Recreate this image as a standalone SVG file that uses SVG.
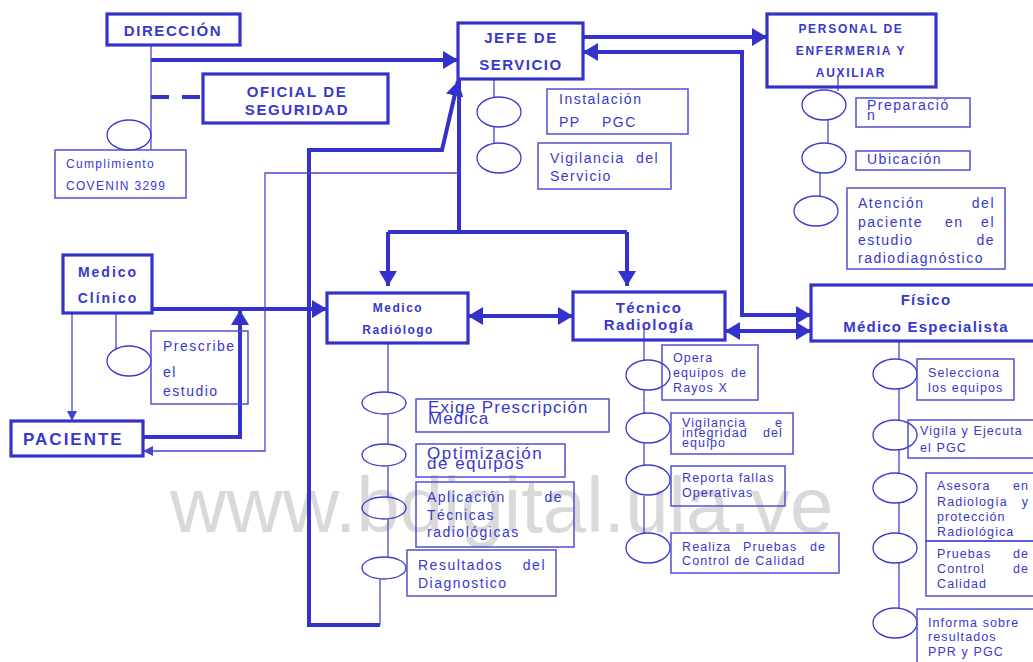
<svg xmlns="http://www.w3.org/2000/svg" width="1033" height="662" viewBox="0 0 1033 662">
<defs>
<marker id="ah" markerUnits="userSpaceOnUse" markerWidth="16" markerHeight="18" refX="15" refY="9" orient="auto-start-reverse"><path d="M0,0 L15,9 L0,18 z" fill="#3333CC"/></marker>
<marker id="as" markerUnits="userSpaceOnUse" markerWidth="11" markerHeight="10" refX="10" refY="5" orient="auto"><path d="M0,0 L10,5 L0,10 z" fill="#4444CF"/></marker>
<style>
.thick{stroke:#3333CC;stroke-width:4;fill:none}
.thin{stroke:#4848D0;stroke-width:1.3;fill:none}
.node{stroke:#3333CC;stroke-width:3.2;fill:none}
.box{stroke:#5050D4;stroke-width:1.5;fill:none}
.ell{stroke:#3C3CCC;stroke-width:1.3;fill:none}
text{font-family:"Liberation Sans",Arial,sans-serif;fill:#3838CC}
.b{font-weight:bold}
.n{font-size:14px;letter-spacing:1.5px}
.s{font-size:12.5px;letter-spacing:1.1px}
.wm{font-size:78px;fill:#D9D9D9;letter-spacing:0}
</style>
</defs>
<rect width="1033" height="662" fill="#fff"/>
<text class="wm" x="170" y="532">www.bdigital.ula.ve</text>

<g id="connectors">
<path class="thick" d="M151,60 H458" marker-end="url(#ah)"/>
<path class="thick" d="M583,37 H767" marker-end="url(#ah)"/>
<path class="thick" d="M583,52 H742 V315 H811" marker-start="url(#ah)" marker-end="url(#ah)"/>
<path class="thick" d="M725,331 H811" marker-start="url(#ah)" marker-end="url(#ah)"/>
<path class="thick" d="M468,316 H573" marker-start="url(#ah)" marker-end="url(#ah)"/>
<path class="thick" d="M459,79 V232"/>
<path class="thick" d="M388,232 H627"/>
<path class="thick" d="M388,232 V286" marker-end="url(#ah)"/>
<path class="thick" d="M627,232 V286" marker-end="url(#ah)"/>
<path class="thick" d="M380,625 H309 V150 H442 L458,81" marker-end="url(#ah)"/>
<path class="thick" d="M152,309 H327" marker-end="url(#ah)"/>
<path class="thick" d="M143,437 H240 V310" marker-end="url(#ah)"/>
<path class="thin" d="M72,313 V421" marker-end="url(#as)"/>
<path class="thin" d="M459,173 H265 V451 H143" marker-end="url(#as)"/>
<path class="thin" d="M151,45 V150"/>
<path class="thin" d="M151,97"/>
<path d="M151,97 H203" stroke="#3333CC" stroke-width="4" stroke-dasharray="18,13" fill="none"/>
<path class="thin" d="M494,79 V97 M494,127 V143"/>
<path class="thin" d="M838,76 V91 M828,120 V143 M820,173 V196"/>
<path class="thin" d="M116,313 V350"/>
<path class="thin" d="M388,343 V392 M388,414 V444 M388,466 V497 M388,519 V557 M380,579 V625"/>
<path class="thin" d="M644,326 V360 M644,390 V413 M644,443 V465 M644,496 V533"/>
<path class="thin" d="M899,341 V359 M899,389 V420 M899,450 V473 M899,503 V533 M899,563 V608"/>
</g>

<g id="direccion">
<rect class="node" x="107" y="14" width="133" height="31"/>
<text class="b" x="173" y="36" font-size="15" letter-spacing="1.6" text-anchor="middle">DIRECCIÓN</text>
<ellipse class="ell" cx="129" cy="135" rx="22" ry="15"/>
<rect class="box" x="55" y="150" width="131" height="48"/>
<text x="66" y="168" font-size="12" letter-spacing="1.3">Cumplimiento</text>
<text x="66" y="190" font-size="12" letter-spacing="1.3">COVENIN 3299</text>
</g>

<g id="oficial">
<rect class="node" x="203" y="74" width="185" height="49"/>
<text class="b" x="297" y="97" font-size="15" letter-spacing="1.6" text-anchor="middle">OFICIAL DE</text>
<text class="b" x="297" y="115" font-size="15" letter-spacing="1.6" text-anchor="middle">SEGURIDAD</text>
</g>

<g id="jefe">
<rect class="node" x="458" y="23" width="125" height="56"/>
<text class="b" x="521" y="43" font-size="15" letter-spacing="1.6" text-anchor="middle">JEFE DE</text>
<text class="b" x="521" y="70" font-size="15" letter-spacing="1.5" text-anchor="middle">SERVICIO</text>
<ellipse class="ell" cx="499" cy="112" rx="22" ry="15"/>
<ellipse class="ell" cx="499" cy="158" rx="22" ry="15"/>
<rect class="box" x="547" y="89" width="141" height="45"/>
<text class="n" x="559" y="104">Instalación</text>
<text class="n" x="559" y="127">PP</text>
<text class="n" x="602" y="127">PGC</text>
<rect class="box" x="538" y="143" width="133" height="46"/>
<text class="n" x="550" y="163" letter-spacing="1.4">Vigilancia</text>
<text class="n" x="636" y="163" letter-spacing="1.4">del</text>
<text class="n" x="550" y="181" letter-spacing="1.4">Servicio</text>
</g>

<g id="personal">
<rect class="node" x="767" y="14" width="169" height="73"/>
<text class="b" x="851" y="33" font-size="12" letter-spacing="1.7" text-anchor="middle">PERSONAL DE</text>
<text class="b" x="851" y="55" font-size="12" letter-spacing="1.7" text-anchor="middle">ENFERMERIA Y</text>
<text class="b" x="851" y="77" font-size="12" letter-spacing="1.7" text-anchor="middle">AUXILIAR</text>
<ellipse class="ell" cx="824" cy="105" rx="22" ry="15"/>
<ellipse class="ell" cx="824" cy="158" rx="22" ry="15"/>
<ellipse class="ell" cx="816" cy="211" rx="22" ry="15"/>
<rect class="box" x="856" y="98" width="114" height="29"/>
<text class="n" x="867" y="110">Preparació</text>
<text class="n" x="867" y="120">n</text>
<rect class="box" x="856" y="151" width="114" height="19"/>
<text class="n" x="867" y="164">Ubicación</text>
<rect class="box" x="847" y="188" width="158" height="81"/>
<text class="n" x="858" y="208">Atención</text>
<text class="n" x="995" y="208" text-anchor="end">del</text>
<text class="n" x="858" y="227">paciente</text>
<text class="n" x="945" y="227">en</text>
<text class="n" x="995" y="227" text-anchor="end">el</text>
<text class="n" x="858" y="245">estudio</text>
<text class="n" x="995" y="245" text-anchor="end">de</text>
<text class="n" x="858" y="263" letter-spacing="1.6">radiodiagnóstico</text>
</g>

<g id="medico-clinico">
<rect class="node" x="63" y="255" width="89" height="58"/>
<text class="b" x="108" y="277" font-size="14" letter-spacing="2" text-anchor="middle">Medico</text>
<text class="b" x="108" y="303" font-size="14" letter-spacing="2" text-anchor="middle">Clínico</text>
<ellipse class="ell" cx="129" cy="361" rx="22" ry="15"/>
<rect class="box" x="151" y="331" width="97" height="73"/>
<text class="n" x="163" y="351" letter-spacing="1.7">Prescribe</text>
<text class="n" x="163" y="377" letter-spacing="1.7">el</text>
<text class="n" x="163" y="396" letter-spacing="1.7">estudio</text>
</g>

<g id="paciente">
<rect class="node" x="11" y="421" width="132" height="35"/>
<text class="b" x="23" y="445" font-size="17" letter-spacing="2">PACIENTE</text>
</g>

<g id="medico-radiologo">
<rect class="node" x="327" y="293" width="141" height="50"/>
<text class="b" x="398" y="312" font-size="12" letter-spacing="1.5" text-anchor="middle">Medico</text>
<text class="b" x="398" y="334" font-size="12" letter-spacing="1.4" text-anchor="middle">Radiólogo</text>
<ellipse class="ell" cx="384" cy="403" rx="22" ry="11"/>
<ellipse class="ell" cx="384" cy="455" rx="22" ry="11"/>
<ellipse class="ell" cx="384" cy="508" rx="22" ry="11"/>
<ellipse class="ell" cx="384" cy="568" rx="22" ry="11"/>
<rect class="box" x="416" y="399" width="193" height="33"/>
<text x="428" y="413" font-size="17" letter-spacing="1.1">Exige Prescripción</text>
<text x="428" y="424" font-size="17" letter-spacing="1.1">Medica</text>
<rect class="box" x="416" y="444" width="149" height="33"/>
<text x="427" y="459" font-size="17" letter-spacing="1.5">Optimización</text>
<text x="427" y="469" font-size="17" letter-spacing="1.5">de equipos</text>
<rect class="box" x="416" y="482" width="158" height="65"/>
<text class="n" x="427" y="502">Aplicación</text>
<text class="n" x="563" y="502" text-anchor="end">de</text>
<text class="n" x="427" y="520">Técnicas</text>
<text class="n" x="427" y="537" letter-spacing="1.6">radiológicas</text>
<rect class="box" x="407" y="550" width="149" height="46"/>
<text class="n" x="418" y="570" letter-spacing="1.6">Resultados</text>
<text class="n" x="546" y="570" letter-spacing="1.6" text-anchor="end">del</text>
<text class="n" x="418" y="588" letter-spacing="1.6">Diagnostico</text>
</g>

<g id="tecnico">
<rect class="node" x="573" y="292" width="152" height="48"/>
<text class="b" x="649" y="313" font-size="15" letter-spacing="1.4" text-anchor="middle">Técnico</text>
<text class="b" x="649" y="330" font-size="15" letter-spacing="1.4" text-anchor="middle">Radiología</text>
<ellipse class="ell" cx="648" cy="375" rx="22" ry="15"/>
<ellipse class="ell" cx="648" cy="428" rx="22" ry="15"/>
<ellipse class="ell" cx="648" cy="480" rx="22" ry="15"/>
<ellipse class="ell" cx="648" cy="548" rx="22" ry="15"/>
<rect class="box" x="662" y="345" width="96" height="55"/>
<text class="s" x="673" y="362">Opera</text>
<text class="s" x="673" y="377">equipos</text>
<text class="s" x="731" y="377">de</text>
<text class="s" x="673" y="392">Rayos X</text>
<rect class="box" x="671" y="413" width="122" height="41"/>
<text class="s" x="682" y="427" letter-spacing="1">Vigilancia</text>
<text class="s" x="783" y="427" text-anchor="end">e</text>
<text class="s" x="682" y="437" letter-spacing="1">integridad</text>
<text class="s" x="783" y="437" letter-spacing="1" text-anchor="end">del</text>
<text class="s" x="682" y="447" letter-spacing="1">equipo</text>
<rect class="box" x="671" y="466" width="114" height="40"/>
<text class="s" x="682" y="482" letter-spacing="1">Reporta fallas</text>
<text class="s" x="682" y="497" letter-spacing="1">Operativas</text>
<rect class="box" x="671" y="533" width="168" height="40"/>
<text class="s" x="682" y="551">Realiza</text>
<text class="s" x="743" y="551">Pruebas</text>
<text class="s" x="810" y="551">de</text>
<text class="s" x="682" y="565" letter-spacing="0.85">Control de Calidad</text>
</g>

<g id="fisico">
<rect class="node" x="811" y="285" width="232" height="56"/>
<text class="b" x="926" y="305" font-size="15" letter-spacing="1.2" text-anchor="middle">Físico</text>
<text class="b" x="926" y="332" font-size="15" letter-spacing="1.2" text-anchor="middle">Médico Especialista</text>
<ellipse class="ell" cx="895" cy="374" rx="22" ry="15"/>
<ellipse class="ell" cx="895" cy="435" rx="22" ry="15"/>
<ellipse class="ell" cx="895" cy="488" rx="22" ry="15"/>
<ellipse class="ell" cx="895" cy="548" rx="22" ry="15"/>
<ellipse class="ell" cx="895" cy="623" rx="22" ry="15"/>
<rect class="box" x="917" y="359" width="97" height="41"/>
<text class="s" x="928" y="377">Selecciona</text>
<text class="s" x="928" y="392">los equipos</text>
<rect class="box" x="908" y="420" width="132" height="38"/>
<text class="s" x="920" y="435">Vigila y Ejecuta</text>
<text class="s" x="920" y="452">el PGC</text>
<rect class="box" x="926" y="473" width="112" height="68"/>
<text class="s" x="937" y="490">Asesora</text>
<text class="s" x="1029" y="490" text-anchor="end">en</text>
<text class="s" x="937" y="506">Radiología</text>
<text class="s" x="1029" y="506" text-anchor="end">y</text>
<text class="s" x="937" y="521">protección</text>
<text class="s" x="937" y="536">Radiológica</text>
<rect class="box" x="926" y="541" width="112" height="55"/>
<text class="s" x="937" y="558">Pruebas</text>
<text class="s" x="1029" y="558" text-anchor="end">de</text>
<text class="s" x="937" y="573">Control</text>
<text class="s" x="1029" y="573" text-anchor="end">de</text>
<text class="s" x="937" y="588">Calidad</text>
<rect class="box" x="917" y="609" width="122" height="60"/>
<text class="s" x="928" y="627">Informa sobre</text>
<text class="s" x="928" y="641">resultados</text>
<text class="s" x="928" y="656">PPR y PGC</text>
</g>
</svg>
